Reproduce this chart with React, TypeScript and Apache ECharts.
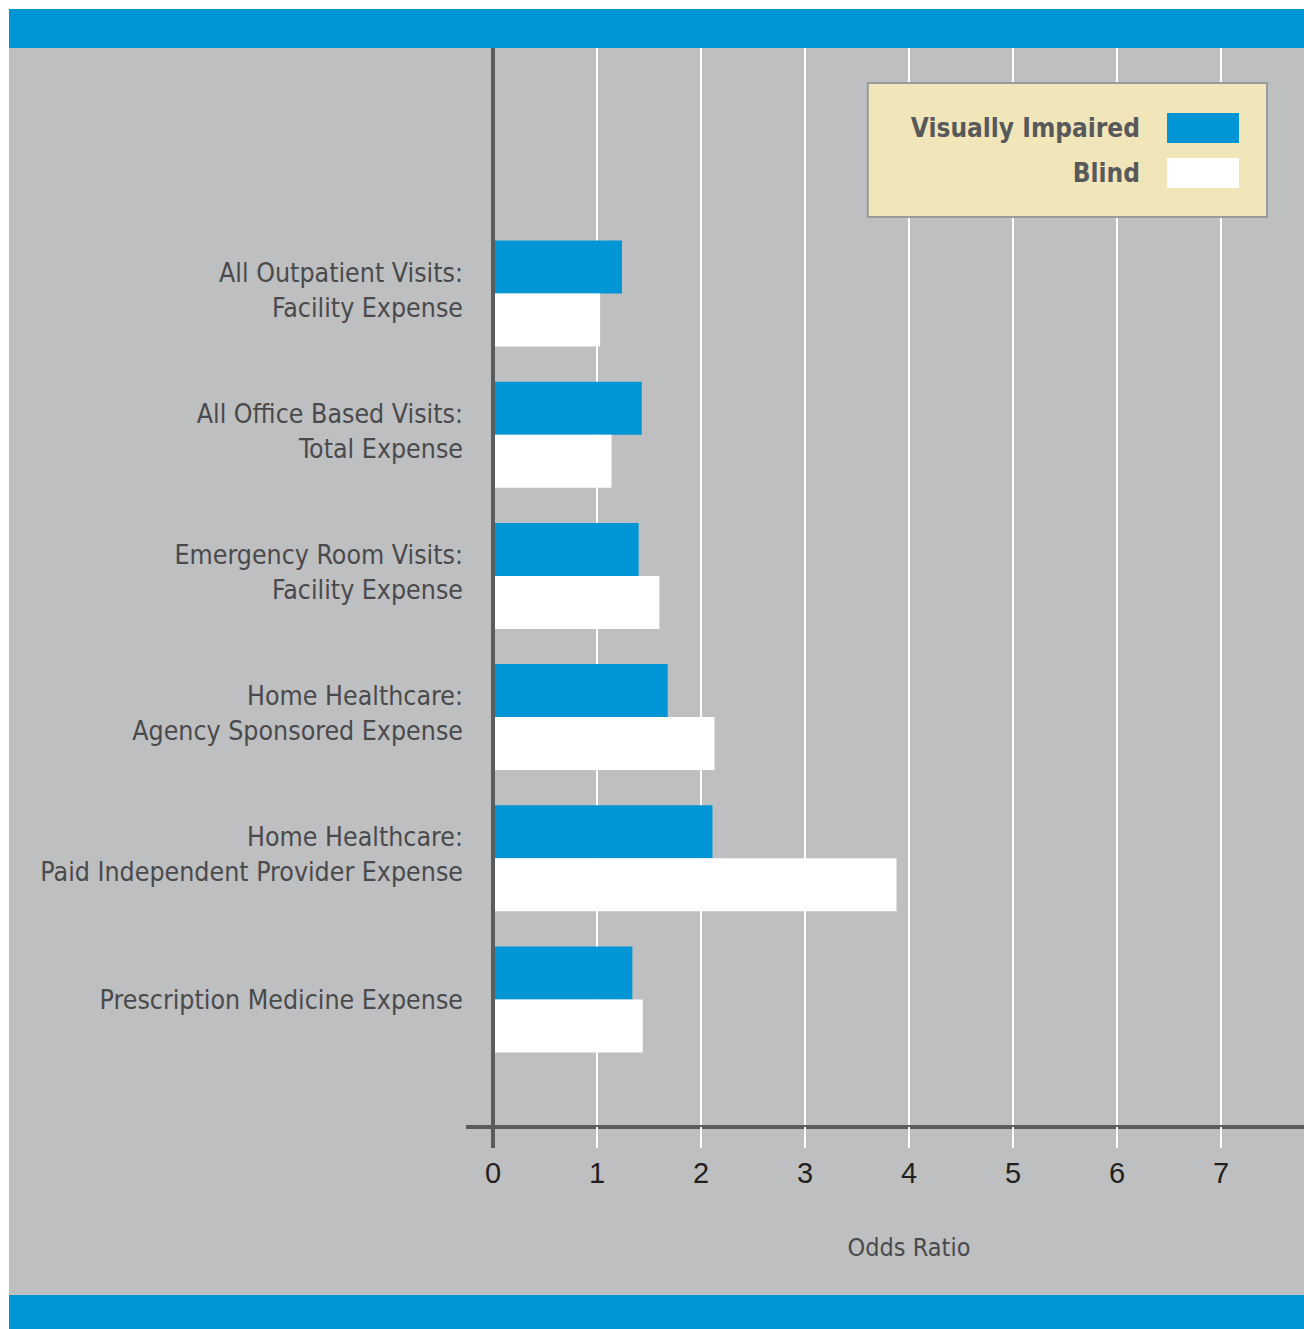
import React, { useEffect, useRef } from "react";
import * as echarts from "echarts";

const categories = [
  "All Outpatient Visits:\nFacility Expense",
  "All Office Based Visits:\nTotal Expense",
  "Emergency Room Visits:\nFacility Expense",
  "Home Healthcare:\nAgency Sponsored Expense",
  "Home Healthcare:\nPaid Independent Provider Expense",
  "Prescription Medicine Expense",
];
const seriesNames = ["Visually Impaired", "Blind"];
const visuallyImpaired = [1.24, 1.43, 1.4, 1.68, 2.11, 1.34];
const blind = [1.03, 1.14, 1.6, 2.13, 3.88, 1.44];
const xMin = 0;
const xMax = 8;
const xInterval = 1;
const axisName = "Odds Ratio";

const BLUE = "#0096d6";
const WHITE = "#ffffff";
const BG = "#bebfc1";
const AXIS = "#5b5c5e";
const TEXT = "#4a4a4c";
const FONT = "'Liberation Sans Narrow', 'DejaVu Sans Condensed', 'Roboto Condensed', sans-serif";

export default function App() {
  const ref = useRef<HTMLDivElement>(null);
  useEffect(() => {
    if (!ref.current) return;
    const chart = echarts.init(ref.current, undefined, { renderer: "svg" });
    const W = 1295;
    const H = 1320;
    chart.setOption({
      animation: false,
      backgroundColor: BG,
      grid: [
        { left: 484, right: -21, top: 39, bottom: 202, outerBoundsMode: "none", containLabel: false },
        { left: 484, right: -21, top: 214, bottom: 259, outerBoundsMode: "none", containLabel: false },
      ],
      xAxis: [
        {
          type: "value",
          gridIndex: 0,
          min: xMin,
          max: xMax,
          interval: xInterval,
          name: axisName,
          nameLocation: "middle",
          nameGap: 108,
          nameTextStyle: { fontFamily: FONT, fontSize: 25, color: TEXT },
          axisLine: { show: true, onZero: false, lineStyle: { color: AXIS, width: 4 } },
          axisTick: { show: true, length: 21, lineStyle: { color: WHITE, width: 2 } },
          splitLine: { show: true, lineStyle: { color: WHITE, width: 2 } },
          axisLabel: {
            fontFamily: "'Liberation Sans', Arial, sans-serif",
            fontSize: 29,
            color: "#231f20",
            margin: 31,
            showMaxLabel: false,
          },
        },
        {
          type: "value",
          gridIndex: 1,
          min: xMin,
          max: xMax,
          interval: xInterval,
          show: false,
        },
      ],
      yAxis: [
        {
          type: "value",
          gridIndex: 0,
          min: 0,
          max: 1,
          z: 10,
          axisLine: { show: true, onZero: false, lineStyle: { color: AXIS, width: 4 } },
          axisTick: { show: false },
          axisLabel: { show: false },
          splitLine: { show: false },
        },
        {
          type: "category",
          gridIndex: 1,
          inverse: true,
          data: categories,
          axisLine: { show: false },
          axisTick: { show: false },
          splitLine: { show: false },
          axisLabel: {
            margin: 30,
            fontFamily: FONT,
            fontSize: 26.5,
            lineHeight: 35,
            color: TEXT,
            align: "right",
            padding: [0, 0, 8, 0],
            formatter: (v: string) => (v.indexOf("\n") >= 0 ? v : "{s|" + v + "}"),
            rich: {
              s: {
                fontFamily: FONT,
                fontSize: 26.5,
                lineHeight: 35,
                color: TEXT,
                padding: [9, 0, 0, 0],
              },
            },
          },
        },
      ],
      legend: {
        orient: "vertical",
        align: "right",
        right: 37,
        top: 74,
        data: seriesNames,
        icon: "rect",
        itemWidth: 72,
        itemHeight: 30,
        itemGap: 15,
        selectedMode: false,
        backgroundColor: "#f1e6b9",
        borderColor: "#9a9a9a",
        borderWidth: 2,
        padding: [30, 28, 29, 43],
        textStyle: {
          fontFamily: FONT,
          fontWeight: "bold",
          fontSize: 26,
          color: "#58595b",
          padding: [0, 22, 0, 0],
        },
      },
      series: [
        {
          type: "bar",
          name: seriesNames[0],
          xAxisIndex: 1,
          yAxisIndex: 1,
          data: visuallyImpaired,
          barWidth: 53,
          barGap: "0%",
          itemStyle: { color: BLUE },
        },
        {
          type: "bar",
          name: seriesNames[1],
          xAxisIndex: 1,
          yAxisIndex: 1,
          data: blind,
          barWidth: 53,
          barGap: "0%",
          itemStyle: { color: WHITE },
        },
      ],
      graphic: [
        { type: "rect", z: 100, shape: { x: 0, y: 0, width: W, height: 39 }, style: { fill: BLUE } },
        { type: "rect", z: 100, shape: { x: 0, y: 1286, width: W, height: H - 1286 }, style: { fill: BLUE } },
        { type: "line", z: 100, shape: { x1: 457, y1: 1118, x2: 484, y2: 1118 }, style: { stroke: AXIS, lineWidth: 4 } },
        { type: "line", z: 100, shape: { x1: 484, y1: 1116, x2: 484, y2: 1139 }, style: { stroke: AXIS, lineWidth: 4 } },
      ],
    });
    return () => chart.dispose();
  }, []);
  return (
    <div
      ref={ref}
      style={{ width: 1295, height: 1320, position: "absolute", left: 9, top: 9 }}
    />
  );
}
